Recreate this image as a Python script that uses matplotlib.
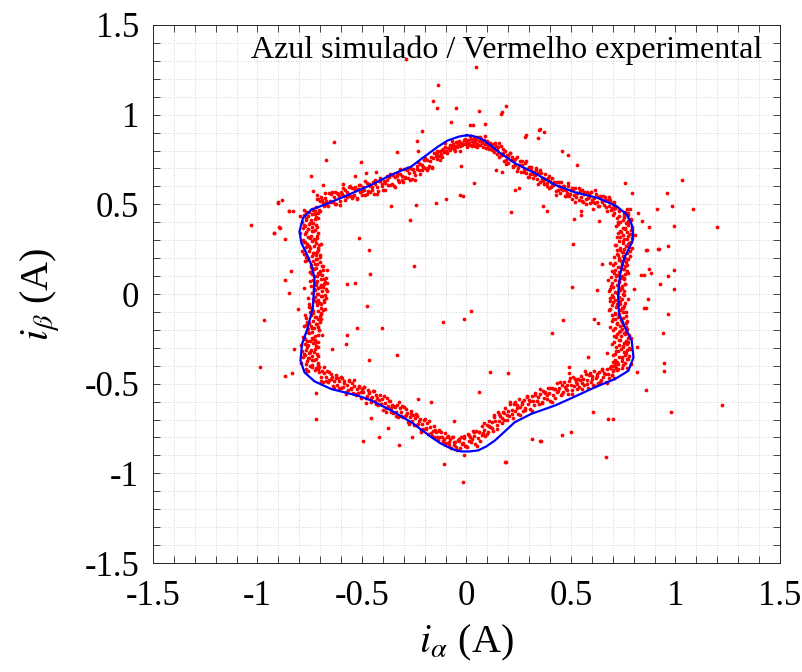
"""
Trajectory of the stator current vector in the alpha-beta plane.
Blue: simulated, red: experimental samples.
"""

import numpy as np
import matplotlib
matplotlib.use('Agg')
import matplotlib.pyplot as plt
from matplotlib.ticker import MultipleLocator, FuncFormatter

plt.rcParams['font.family'] = ['Liberation Serif', 'DejaVu Serif']
plt.rcParams['mathtext.fontset'] = 'stix'
plt.rcParams['axes.unicode_minus'] = False

# -----------------------------------------------------------------------
# 1. Simulated trajectory (blue), read clockwise from the top
# -----------------------------------------------------------------------
blue_x = [0.0, 0.024, 0.05, 0.08, 0.115, 0.152, 0.231, 0.327, 0.423, 0.519,
          0.631, 0.719, 0.767, 0.791, 0.797, 0.794, 0.775, 0.755, 0.735, 0.727,
          0.725, 0.73, 0.759, 0.791, 0.799, 0.775, 0.711, 0.615, 0.511, 0.423,
          0.311, 0.231, 0.18, 0.136, 0.095, 0.056, 0.015, -0.024, -0.055, -0.088,
          -0.128, -0.168, -0.264, -0.359, -0.455, -0.519, -0.647, -0.727, -0.775, -0.794,
          -0.787, -0.759, -0.735, -0.73, -0.727, -0.743, -0.767, -0.79, -0.799, -0.782,
          -0.743, -0.679, -0.583, -0.455, -0.359, -0.264, -0.20, -0.136, -0.09, -0.035,
          0.0]
blue_y = [0.885, 0.883, 0.875, 0.859, 0.83, 0.794, 0.73, 0.674, 0.609, 0.567,
          0.535, 0.489, 0.443, 0.387, 0.34, 0.294, 0.248, 0.202, 0.109, 0.017,
          0.0, -0.113, -0.187, -0.261, -0.354, -0.428, -0.474, -0.52, -0.576, -0.622,
          -0.668, -0.715, -0.77, -0.817, -0.85, -0.872, -0.878, -0.878, -0.87, -0.854,
          -0.83, -0.798, -0.715, -0.65, -0.594, -0.567, -0.53, -0.487, -0.437, -0.372,
          -0.28, -0.187, -0.076, 0.017, 0.09, 0.165, 0.23, 0.285, 0.35, 0.424,
          0.47, 0.498, 0.544, 0.609, 0.665, 0.711, 0.767, 0.822, 0.856, 0.878,
          0.885]

# -----------------------------------------------------------------------
# 2. Experimental samples (red), read edge by edge
# -----------------------------------------------------------------------
band_top = [
    (-.148, .772), (-.143, .751), (-.139, .789), (-.133, .770), (-.128, .795), (-.122, .779),
    (-.117, .762), (-.112, .806), (-.106, .790), (-.101, .821), (-.097, .798), (-.091, .784),
    (-.086, .815), (-.080, .829), (-.077, .803), (-.071, .822), (-.066, .838), (-.061, .811),
    (-.055, .827), (-.049, .846), (-.046, .818), (-.040, .835), (-.034, .852), (-.030, .824),
    (-.024, .841), (-.019, .829), (-.013, .858), (-.008, .836), (-.003, .849), (.002, .822),
    (.007, .861), (.011, .843), (.016, .829), (.021, .866), (.025, .852), (.030, .835),
    (.034, .871), (.039, .847), (.043, .826), (.048, .862), (.052, .839), (.057, .874),
    (.061, .852), (.066, .831), (.070, .866), (.075, .845), (.079, .821), (.084, .858),
    (.088, .837), (.093, .815), (.097, .851), (.102, .829), (.106, .808), (.111, .843),
    (.116, .822), (.120, .801), (.125, .835), (.130, .813), (.134, .792), (.139, .826),
    (.144, .804), (.148, .783),
    (-.140, .797), (-.128, .748), (-.116, .803), (-.104, .840), (-.092, .792), (-.080, .810),
    (-.068, .851), (-.056, .799), (-.044, .848), (-.032, .797), (-.020, .843), (-.008, .864),
    (.004, .834), (.016, .882), (.028, .826), (.040, .857), (.052, .818), (.064, .874),
    (.076, .843), (.088, .880), (.100, .815), (.112, .842), (.124, .810), (.136, .840)]

band_upper_right = [
    (.152, .818), (.157, .764), (.163, .825), (.168, .776), (.174, .786), (.179, .739),
    (.185, .797), (.190, .748), (.196, .775), (.201, .731), (.207, .784), (.212, .745),
    (.218, .764), (.223, .707), (.229, .745), (.234, .718), (.240, .766), (.245, .700),
    (.251, .720), (.256, .742), (.262, .679), (.267, .721), (.273, .695), (.278, .732),
    (.284, .674), (.289, .696), (.295, .652), (.300, .707), (.306, .669), (.311, .707),
    (.317, .648), (.322, .682), (.328, .664), (.333, .701), (.339, .643), (.344, .674),
    (.350, .622), (.355, .677), (.361, .639), (.366, .647), (.372, .615), (.377, .668),
    (.383, .619), (.388, .649), (.394, .589), (.399, .628), (.405, .595), (.410, .648),
    (.416, .608), (.421, .622), (.427, .573), (.432, .626), (.438, .580), (.443, .605),
    (.449, .565), (.454, .625), (.460, .578), (.465, .602), (.471, .545), (.476, .579),
    (.482, .561), (.487, .600), (.493, .545), (.498, .578), (.504, .532), (.509, .586),
    (.515, .554), (.520, .592), (.526, .539), (.531, .562), (.537, .526), (.542, .573),
    (.548, .541), (.553, .580), (.559, .513), (.564, .555), (.570, .528), (.575, .569),
    (.581, .538), (.586, .556), (.592, .509), (.597, .571), (.603, .523), (.608, .536),
    (.614, .507), (.619, .557), (.625, .511), (.630, .539), (.636, .492), (.641, .545),
    (.647, .516), (.652, .549), (.658, .495), (.663, .523), (.669, .483), (.674, .525),
    (.680, .492), (.685, .526), (.691, .469), (.696, .505), (.702, .476), (.707, .511),
    (.713, .479),
    (.155, .841), (.166, .775), (.177, .806), (.188, .723), (.199, .767), (.210, .788),
    (.221, .713), (.232, .753), (.243, .685), (.254, .718), (.265, .743), (.276, .682),
    (.287, .743), (.298, .650), (.309, .691), (.320, .668), (.331, .690), (.342, .616),
    (.353, .693), (.364, .629), (.375, .641), (.386, .604), (.397, .660), (.408, .606),
    (.419, .623), (.430, .551), (.441, .625), (.452, .587), (.463, .604), (.474, .545),
    (.485, .617), (.496, .555), (.507, .591), (.518, .512), (.529, .562), (.540, .589),
    (.551, .520), (.562, .566), (.573, .502), (.584, .541), (.595, .570), (.606, .513),
    (.617, .579), (.628, .491), (.639, .534), (.650, .515), (.661, .539), (.672, .465),
    (.683, .543), (.694, .482), (.705, .495)]

band_right = [
    (.711, .478), (.768, .472), (.732, .466), (.760, .460), (.708, .454), (.756, .448),
    (.773, .442), (.732, .436), (.752, .430), (.719, .424), (.786, .418), (.748, .412),
    (.775, .406), (.735, .400), (.764, .394), (.723, .388), (.773, .382), (.790, .376),
    (.747, .370), (.759, .364), (.787, .358), (.733, .352), (.766, .346), (.723, .340),
    (.782, .334), (.750, .328), (.771, .322), (.736, .316), (.794, .310), (.755, .304),
    (.732, .298), (.786, .292), (.747, .286), (.772, .280), (.717, .274), (.763, .268),
    (.777, .262), (.734, .256), (.753, .250), (.718, .244), (.783, .238), (.742, .232),
    (.766, .226), (.724, .220), (.751, .214), (.708, .208), (.757, .202), (.773, .196),
    (.728, .190), (.739, .184), (.765, .178), (.710, .172), (.742, .166), (.699, .160),
    (.758, .154), (.726, .148), (.747, .142), (.711, .136), (.769, .130), (.729, .124),
    (.705, .118), (.759, .112), (.721, .106), (.746, .100), (.691, .094), (.738, .088),
    (.752, .082), (.710, .076), (.728, .070), (.694, .064), (.759, .058), (.720, .052),
    (.745, .046), (.703, .040), (.731, .034), (.689, .028), (.737, .022), (.754, .016),
    (.710, .010), (.722, .004), (.749, -.002), (.695, -.008), (.728, -.014), (.685, -.020),
    (.745, -.026), (.713, -.032), (.735, -.038), (.700, -.044), (.759, -.050), (.720, -.056),
    (.698, -.062), (.753, -.068), (.715, -.074), (.742, -.080), (.688, -.086), (.735, -.092),
    (.751, -.098), (.709, -.104), (.729, -.110), (.695, -.116), (.762, -.122), (.724, -.128),
    (.749, -.134), (.709, -.140), (.738, -.146), (.696, -.152), (.746, -.158), (.764, -.164),
    (.721, -.170), (.734, -.176), (.762, -.182), (.709, -.188), (.742, -.194), (.700, -.200),
    (.761, -.206), (.729, -.212), (.752, -.218), (.718, -.224), (.777, -.230), (.739, -.236),
    (.717, -.242), (.772, -.248), (.734, -.254), (.761, -.260), (.707, -.266), (.755, -.272),
    (.770, -.278), (.728, -.284), (.748, -.290), (.714, -.296), (.780, -.302), (.741, -.308),
    (.766, -.314), (.725, -.320), (.753, -.326), (.710, -.332), (.759, -.338), (.776, -.344),
    (.731, -.350), (.742, -.356), (.768, -.362), (.713, -.368), (.745, -.374), (.701, -.380),
    (.760, -.386), (.727, -.392), (.748, -.398), (.711, -.404), (.768, -.410), (.727, -.416),
    (.702, -.422),
    (.782, .475), (.729, .463), (.773, .451), (.700, .439), (.756, .427), (.788, .415),
    (.724, .403), (.775, .391), (.717, .379), (.760, .367), (.793, .355), (.740, .343),
    (.808, .331), (.722, .319), (.768, .307), (.751, .295), (.779, .283), (.709, .271),
    (.791, .259), (.733, .247), (.750, .235), (.719, .223), (.781, .211), (.732, .199),
    (.754, .187), (.688, .175), (.766, .163), (.733, .151), (.754, .139), (.698, .127),
    (.775, .115), (.716, .103), (.755, .091), (.679, .079), (.731, .067), (.760, .055),
    (.693, .043), (.742, .031), (.681, .019), (.723, .007), (.755, -.005), (.702, -.017),
    (.771, -.029), (.686, -.041), (.733, -.053), (.718, -.065), (.748, -.077), (.680, -.089),
    (.765, -.101), (.710, -.113), (.730, -.125), (.703, -.137), (.768, -.149), (.722, -.161),
    (.748, -.173), (.685, -.185), (.766, -.197), (.736, -.209), (.760, -.221), (.707, -.233),
    (.787, -.245), (.731, -.257), (.772, -.269), (.697, -.281), (.751, -.293), (.781, -.305),
    (.715, -.317), (.764, -.329), (.703, -.341), (.744, -.353), (.774, -.365), (.719, -.377),
    (.786, -.389), (.699, -.401), (.742, -.413), (.721, -.425)]

band_lower_right = [
    (.714, -.411), (.708, -.467), (.702, -.428), (.696, -.450), (.690, -.401), (.684, -.469),
    (.678, -.444), (.672, -.418), (.666, -.490), (.660, -.438), (.654, -.461), (.648, -.422),
    (.642, -.478), (.636, -.436), (.630, -.494), (.624, -.456), (.618, -.470), (.612, -.429),
    (.606, -.509), (.600, -.458), (.594, -.491), (.588, -.451), (.582, -.524), (.576, -.477),
    (.570, -.446), (.564, -.508), (.558, -.475), (.552, -.498), (.546, -.457), (.540, -.520),
    (.534, -.473), (.528, -.530), (.522, -.491), (.516, -.514), (.510, -.465), (.504, -.534),
    (.498, -.509), (.492, -.484), (.486, -.557), (.480, -.505), (.474, -.528), (.468, -.490),
    (.462, -.546), (.456, -.505), (.450, -.562), (.444, -.525), (.438, -.539), (.432, -.498),
    (.426, -.579), (.420, -.529), (.414, -.563), (.408, -.523), (.402, -.597), (.396, -.552),
    (.390, -.522), (.384, -.585), (.378, -.554), (.372, -.578), (.366, -.539), (.360, -.603),
    (.354, -.557), (.348, -.614), (.342, -.576), (.336, -.599), (.330, -.550), (.324, -.619),
    (.318, -.594), (.312, -.569), (.306, -.642), (.300, -.591), (.294, -.614), (.288, -.576),
    (.282, -.633), (.276, -.592), (.270, -.650), (.264, -.613), (.258, -.628), (.252, -.587),
    (.246, -.668), (.240, -.618), (.234, -.652), (.228, -.614), (.222, -.689), (.216, -.645),
    (.210, -.616), (.204, -.680), (.198, -.650), (.192, -.675), (.186, -.637), (.180, -.703),
    (.174, -.659), (.168, -.718), (.162, -.682), (.156, -.707), (.150, -.660), (.144, -.732),
    (.138, -.710), (.132, -.688), (.126, -.764), (.120, -.716), (.114, -.742), (.108, -.707),
    (.102, -.767), (.096, -.729), (.090, -.790), (.084, -.756), (.078, -.774), (.072, -.736),
    (.066, -.818), (.060, -.768), (.054, -.803), (.048, -.764), (.042, -.839), (.036, -.794),
    (.030, -.764), (.024, -.827), (.018, -.796), (.012, -.820), (.006, -.781), (.000, -.845),
    (.710, -.384), (.698, -.451), (.686, -.412), (.674, -.499), (.662, -.444), (.650, -.416),
    (.638, -.493), (.626, -.444), (.614, -.515), (.602, -.473), (.590, -.442), (.578, -.504),
    (.566, -.431), (.554, -.528), (.542, -.480), (.530, -.502), (.518, -.475), (.506, -.555),
    (.494, -.469), (.482, -.536), (.470, -.520), (.458, -.558), (.446, -.492), (.434, -.549),
    (.422, -.528), (.410, -.605), (.398, -.523), (.386, -.564), (.374, -.545), (.362, -.610),
    (.350, -.530), (.338, -.599), (.326, -.561), (.314, -.650), (.302, -.597), (.290, -.570),
    (.278, -.649), (.266, -.601), (.254, -.673), (.242, -.633), (.230, -.605), (.218, -.671),
    (.206, -.603), (.194, -.705), (.182, -.661), (.170, -.689), (.158, -.667), (.146, -.752),
    (.134, -.672), (.122, -.746), (.110, -.737), (.098, -.781), (.086, -.722), (.074, -.786),
    (.062, -.767), (.050, -.846), (.038, -.768), (.026, -.806), (.014, -.787), (.002, -.852)]

band_bottom = [
    (-.006, -.846), (-.012, -.802), (-.018, -.833), (-.024, -.798), (-.030, -.859), (-.036, -.819),
    (-.042, -.812), (-.048, -.855), (-.054, -.825), (-.060, -.840), (-.066, -.798), (-.072, -.857),
    (-.078, -.806), (-.084, -.826), (-.090, -.793), (-.096, -.830), (-.102, -.775), (-.108, -.806),
    (-.114, -.821), (-.120, -.772), (-.126, -.798), (-.132, -.759), (-.138, -.815), (-.144, -.771),
    (-.150, -.758), (-.156, -.797), (-.162, -.764), (-.168, -.775),
    (-.010, -.790), (-.022, -.838), (-.034, -.807), (-.046, -.868), (-.058, -.823), (-.070, -.796),
    (-.082, -.843), (-.094, -.798), (-.106, -.839), (-.118, -.797), (-.130, -.764), (-.142, -.798),
    (-.154, -.734), (-.166, -.794)]

band_lower_left = [
    (-.176, -.742), (-.182, -.780), (-.188, -.719), (-.194, -.746), (-.200, -.697), (-.206, -.753),
    (-.212, -.723), (-.218, -.760), (-.224, -.699), (-.230, -.727), (-.236, -.679), (-.242, -.733),
    (-.248, -.692), (-.254, -.675), (-.260, -.710), (-.266, -.653), (-.272, -.688), (-.278, -.714),
    (-.284, -.661), (-.290, -.644), (-.296, -.678), (-.302, -.688), (-.308, -.627), (-.314, -.657),
    (-.320, -.635), (-.326, -.685), (-.332, -.621), (-.338, -.657), (-.344, -.632), (-.350, -.664),
    (-.356, -.620), (-.362, -.658), (-.368, -.599), (-.374, -.627), (-.380, -.580), (-.386, -.636),
    (-.392, -.607), (-.398, -.645), (-.404, -.584), (-.410, -.612), (-.416, -.565), (-.422, -.619),
    (-.428, -.579), (-.434, -.563), (-.440, -.598), (-.446, -.541), (-.452, -.577), (-.458, -.604),
    (-.464, -.551), (-.470, -.535), (-.476, -.569), (-.482, -.580), (-.488, -.519), (-.494, -.549),
    (-.500, -.528), (-.506, -.578), (-.512, -.515), (-.518, -.551), (-.524, -.527), (-.530, -.559),
    (-.536, -.515), (-.542, -.554), (-.548, -.495), (-.554, -.524), (-.560, -.478), (-.566, -.536),
    (-.572, -.507), (-.578, -.547), (-.584, -.487), (-.590, -.517), (-.596, -.471), (-.602, -.526),
    (-.608, -.487), (-.614, -.471), (-.620, -.507), (-.626, -.450), (-.632, -.486), (-.638, -.514),
    (-.644, -.462), (-.650, -.446), (-.656, -.481), (-.662, -.492), (-.668, -.432), (-.674, -.463),
    (-.680, -.443), (-.686, -.492), (-.692, -.428), (-.698, -.463),
    (-.180, -.706), (-.192, -.753), (-.204, -.704), (-.216, -.771), (-.228, -.709), (-.240, -.671),
    (-.252, -.729), (-.264, -.671), (-.276, -.723), (-.288, -.672), (-.300, -.632), (-.312, -.678),
    (-.324, -.602), (-.336, -.680), (-.348, -.625), (-.360, -.634), (-.372, -.598), (-.384, -.659),
    (-.396, -.567), (-.408, -.616), (-.420, -.590), (-.432, -.612), (-.444, -.541), (-.456, -.580),
    (-.468, -.549), (-.480, -.607), (-.492, -.520), (-.504, -.545), (-.516, -.516), (-.528, -.564),
    (-.540, -.480), (-.552, -.531), (-.564, -.486), (-.576, -.557), (-.588, -.499), (-.600, -.464),
    (-.612, -.524), (-.624, -.469), (-.636, -.522), (-.648, -.474), (-.660, -.436), (-.672, -.483),
    (-.684, -.408), (-.696, -.485)]

band_left = [
    (-.705, -.436), (-.757, -.430), (-.726, -.424), (-.768, -.418), (-.719, -.412), (-.706, -.406),
    (-.751, -.400), (-.740, -.394), (-.766, -.388), (-.708, -.382), (-.763, -.376), (-.737, -.370),
    (-.720, -.364), (-.754, -.358), (-.782, -.352), (-.737, -.346), (-.771, -.340), (-.716, -.334),
    (-.753, -.328), (-.731, -.322), (-.787, -.316), (-.743, -.310), (-.725, -.304), (-.765, -.298),
    (-.720, -.292), (-.758, -.286), (-.774, -.280), (-.736, -.274), (-.709, -.268), (-.765, -.262),
    (-.723, -.256), (-.773, -.250), (-.739, -.244), (-.779, -.238), (-.727, -.232), (-.711, -.226),
    (-.753, -.220), (-.740, -.214), (-.765, -.208), (-.704, -.202), (-.757, -.196), (-.729, -.190),
    (-.710, -.184), (-.742, -.178), (-.768, -.172), (-.722, -.166), (-.755, -.160), (-.699, -.154),
    (-.735, -.148), (-.712, -.142), (-.767, -.136), (-.722, -.130), (-.703, -.124), (-.742, -.118),
    (-.698, -.112), (-.735, -.106), (-.751, -.100), (-.712, -.094), (-.685, -.088), (-.741, -.082),
    (-.698, -.076), (-.747, -.070), (-.713, -.064), (-.752, -.058), (-.700, -.052), (-.683, -.046),
    (-.724, -.040), (-.711, -.034), (-.734, -.028), (-.673, -.022), (-.726, -.016), (-.698, -.010),
    (-.679, -.004), (-.711, .002), (-.738, .008), (-.692, .014), (-.726, .020), (-.671, .026),
    (-.708, .032), (-.686, .038), (-.742, .044), (-.698, .050), (-.681, .056), (-.721, .062),
    (-.678, .068), (-.716, .074), (-.734, .080), (-.696, .086), (-.671, .092), (-.729, .098),
    (-.689, .104), (-.740, .110), (-.708, .116), (-.749, .122), (-.700, .128), (-.686, .134),
    (-.729, .140), (-.718, .146), (-.744, .152), (-.686, .158), (-.742, .164), (-.717, .170),
    (-.701, .176), (-.736, .182), (-.765, .188), (-.720, .194), (-.756, .200), (-.702, .206),
    (-.739, .212), (-.718, .218), (-.775, .224), (-.731, .230), (-.714, .236), (-.754, .242),
    (-.711, .248), (-.749, .254), (-.767, .260), (-.729, .266), (-.704, .272), (-.761, .278),
    (-.721, .284), (-.772, .290), (-.739, .296), (-.780, .302), (-.729, .308), (-.715, .314),
    (-.757, .320), (-.746, .326), (-.771, .332), (-.712, .338), (-.767, .344), (-.741, .350),
    (-.723, .356), (-.756, .362), (-.784, .368), (-.738, .374), (-.772, .380), (-.718, .386),
    (-.755, .392), (-.733, .398), (-.789, .404), (-.745, .410), (-.727, .416), (-.766, .422),
    (-.722, .428), (-.760, .434), (-.776, .440), (-.738, .446), (-.711, .452), (-.768, .458),
    (-.726, .464), (-.775, .470), (-.741, .476),
    (-.762, -.430), (-.712, -.418), (-.739, -.406), (-.711, -.394), (-.794, -.382), (-.731, -.370),
    (-.757, -.358), (-.712, -.346), (-.776, -.334), (-.747, -.322), (-.766, -.310), (-.710, -.298),
    (-.793, -.286), (-.724, -.274), (-.751, -.262), (-.734, -.250), (-.780, -.238), (-.693, -.226),
    (-.761, -.214), (-.707, -.202), (-.737, -.190), (-.777, -.178), (-.716, -.166), (-.763, -.154),
    (-.695, -.142), (-.723, -.130), (-.774, -.118), (-.698, -.106), (-.736, -.094), (-.676, -.082),
    (-.752, -.070), (-.696, -.058), (-.716, -.046), (-.682, -.034), (-.759, -.022), (-.692, -.010),
    (-.714, .002), (-.667, .014), (-.731, .026), (-.702, .038), (-.721, .050), (-.666, .062),
    (-.751, .074), (-.684, .086), (-.715, .098), (-.701, .110), (-.750, .122), (-.668, .134),
    (-.739, .146), (-.689, .158), (-.725, .170), (-.771, .182), (-.714, .194), (-.766, .206),
    (-.701, .218), (-.732, .230), (-.786, .242), (-.712, .254), (-.753, .266), (-.697, .278),
    (-.777, .290), (-.724, .302), (-.748, .314), (-.717, .326), (-.798, .338), (-.735, .350),
    (-.759, .362), (-.713, .374), (-.777, .386), (-.749, .398), (-.768, .410), (-.711, .422),
    (-.795, .434), (-.726, .446), (-.754, .458), (-.736, .470)]

band_upper_left = [
    (-.718, .483), (-.712, .530), (-.706, .470), (-.700, .518), (-.694, .543), (-.688, .505),
    (-.682, .489), (-.676, .536), (-.670, .521), (-.664, .490), (-.658, .562), (-.652, .515),
    (-.646, .555), (-.640, .512), (-.634, .542), (-.628, .569), (-.622, .504), (-.616, .560),
    (-.610, .544), (-.604, .521), (-.598, .571), (-.592, .591), (-.586, .544), (-.580, .522),
    (-.574, .571), (-.568, .559), (-.562, .596), (-.556, .547), (-.550, .591), (-.544, .544),
    (-.538, .550), (-.532, .597), (-.526, .535), (-.520, .583), (-.514, .607), (-.508, .569),
    (-.502, .552), (-.496, .598), (-.490, .582), (-.484, .550), (-.478, .620), (-.472, .572),
    (-.466, .611), (-.460, .567), (-.454, .596), (-.448, .623), (-.442, .558), (-.436, .614),
    (-.430, .599), (-.424, .577), (-.418, .629), (-.412, .649), (-.406, .602), (-.400, .581),
    (-.394, .630), (-.388, .620), (-.382, .657), (-.376, .609), (-.370, .653), (-.364, .606),
    (-.358, .614), (-.352, .661), (-.346, .601), (-.340, .650), (-.334, .675), (-.328, .638),
    (-.322, .623), (-.316, .670), (-.310, .656), (-.304, .625), (-.298, .696), (-.292, .649),
    (-.286, .689), (-.280, .647), (-.274, .677), (-.268, .704), (-.262, .639), (-.256, .696),
    (-.250, .682), (-.244, .661), (-.238, .713), (-.232, .735), (-.226, .690), (-.220, .669),
    (-.214, .720), (-.208, .710), (-.202, .749), (-.196, .702), (-.190, .748), (-.184, .704),
    (-.178, .714), (-.172, .764), (-.166, .706), (-.160, .756), (-.154, .784),
    (-.715, .532), (-.703, .463), (-.691, .523), (-.679, .563), (-.667, .499), (-.655, .520),
    (-.643, .570), (-.631, .503), (-.619, .563), (-.607, .499), (-.595, .555), (-.583, .581),
    (-.571, .543), (-.559, .605), (-.547, .536), (-.535, .578), (-.523, .532), (-.511, .608),
    (-.499, .576), (-.487, .631), (-.475, .559), (-.463, .604), (-.451, .579), (-.439, .633),
    (-.427, .557), (-.415, .632), (-.403, .615), (-.391, .582), (-.379, .637), (-.367, .669),
    (-.355, .663), (-.343, .594), (-.331, .656), (-.319, .697), (-.307, .634), (-.295, .655),
    (-.283, .705), (-.271, .638), (-.259, .699), (-.247, .638), (-.235, .698), (-.223, .727),
    (-.211, .693), (-.199, .759), (-.187, .694), (-.175, .743), (-.163, .704)]

outliers = [
    (-1.03, .383), (-.902, .507), (-.882, .524), (-.921, .339), (-.893, .368), (-.866, .307),
    (-.838, .131), (-.866, .076), (-.971, -.144), (-.987, -.409), (-.867, -.456), (-.834, -.441),
    (-.826, -.307), (-.807, -.082), (-.85, .465), (-.829, .461), (-.743, .656), (-.732, .576),
    (-.722, -.554), (-.902, .511), (-.847, .465), (-.919, .341), (-.895, .372), (-.851, .004),
    (1.033, .635), (.96, .563), (1.086, .476), (.982, .489), (.914, .472), (1.201, .372),
    (.993, .381), (.875, .376), (.84, .407), (.92, .25), (.965, .265), (.859, .243),
    (.872, .139), (.993, .133), (.885, .117), (.835, .104), (.848, .106), (.965, .102),
    (.925, .056), (.993, .028), (.802, .028), (.871, -.03), (.848, -.08), (.858, -.076),
    (.965, -.109), (.942, -.22), (.818, -.296), (.944, -.385), (.944, -.431), (.818, -.433),
    (.861, -.535), (1.225, -.617), (.977, -.659), (.759, .618), (.794, .563), (.823, .452),
    (.862, .243), (.918, .252),
    (.045, 1.267), (-.134, 1.163), (-.158, 1.078), (-.139, 1.039), (-.049, 1.037), (.061, 1.022),
    (.188, 1.046), (.168, 1.017), (.163, 1.002), (-.075, .957), (.018, .941), (.03, .941),
    (.09, .946), (-.212, .907), (.284, .887), (.345, .915), (.369, .902), (.351, .918),
    (.343, .868), (.279, .878), (-.636, .846), (-.236, .854), (-.231, .798), (-.331, .791),
    (-.29, 1.31),
    (-.418, -.798), (-.322, -.844), (-.262, -.796), (-.107, -.95), (-.016, -1.048), (.185, -.939),
    (.313, -.807), (.356, -.818), (.455, -.789), (-.011, -.896), (.666, -.909), (.187, -.937),
    (.5, -.767), (.354, -.82), (.607, -.659), (.676, -.698), (.7, -.696), (-.722, -.698),
    (-.495, -.817), (-.377, -.746), (-.459, -.693), (-.061, -.706),
    (-.522, -.187), (-.404, -.187), (-.331, -.339), (-.466, -.37), (-.11, -.154), (-.476, -.067),
    (-.57, -.226), (-.575, -.28), (-.642, -.307), (-.168, -.604), (-.231, -.583), (.024, -.094),
    (.46, -.146), (.41, -.218), (.112, -.433), (.2, -.439), (.061, -.548), (.489, -.409),
    (.492, -.441), (.583, -.35), (.608, -.137), (.631, -.161), (.672, -.331), (.212, .457),
    (.508, .28), (.548, .465), (.548, .443), (.516, .421), (.367, .489), (.387, .465),
    (.035, .618), (.503, .041), (.623, .021), (.647, .165), (.455, .798), (.487, .776),
    (.527, .72), (.14, .693), (.168, .683), (.231, .578), (.251, .591), (.634, .409),
    (.607, .476), (-.503, .735), (-.674, .748), (-.687, .609), (-.591, .615), (-.717, .55),
    (-.516, .313), (-.466, .243), (-.359, .489), (-.272, .415), (-.24, .498), (-.147, .507),
    (-.099, .532), (-.016, .544), (-.463, .113), (-.251, .156), (-.535, .063), (-.57, .057),
    (-.775, .035), (-.535, .656), (-.479, .674), (-.431, .683), (-.024, .711), (-.032, .55),
    (-.01, -.14)]

red_pts = np.array(band_top + band_upper_right + band_right + band_lower_right
                   + band_bottom + band_lower_left + band_left + band_upper_left
                   + outliers)

tick_vals = [-1.5, -1, -0.5, 0, 0.5, 1, 1.5]

# -----------------------------------------------------------------------
# 3. Plot
# -----------------------------------------------------------------------
fig = plt.figure(figsize=(8.03, 6.72), dpi=100)
ax = fig.add_axes([0.1905, 0.1622, 0.7808, 0.8006])

ax.plot(red_pts[:, 0], red_pts[:, 1], linestyle='none', marker='o',
        markersize=2.7, markeredgewidth=0, color='#ff0000', zorder=3)
ax.plot(blue_x, blue_y, color='#0000ff', linewidth=1.6, zorder=4,
        solid_joinstyle='round')

ax.text(-1.03, 1.318, 'Azul simulado / Vermelho experimental',
        fontsize=23, ha='left', va='baseline', zorder=2)

ax.set_xlim(-1.5, 1.5)
ax.set_ylim(-1.5, 1.5)
ax.set_xticks(tick_vals)
ax.set_yticks(tick_vals)
ax.xaxis.set_minor_locator(MultipleLocator(0.1))
ax.yaxis.set_minor_locator(MultipleLocator(0.1))
fmt = FuncFormatter(lambda v, p: '%g' % v)
ax.xaxis.set_major_formatter(fmt)
ax.yaxis.set_major_formatter(fmt)

ax.grid(True, which='both', linestyle=(0, (1, 2)), linewidth=0.6, color='#c8c8c8', zorder=0)
ax.set_axisbelow(True)
ax.tick_params(which='both', direction='in', top=True, right=True,
               length=5, width=0.6, color='#262626')
ax.tick_params(axis='x', which='major', labelsize=25, pad=12)
ax.tick_params(axis='y', which='major', labelsize=25, pad=10)
for s in ax.spines.values():
    s.set_linewidth(0.7)
    s.set_color('#262626')

ax.set_xlabel(r'$i_\alpha$ (A)', fontsize=29)
ax.set_ylabel(r'$i_\beta$ (A)', fontsize=29)
ax.xaxis.set_label_coords(0.5, -0.112)
ax.yaxis.set_label_coords(-0.145, 0.5)

fig.savefig('out.png', dpi=100)
